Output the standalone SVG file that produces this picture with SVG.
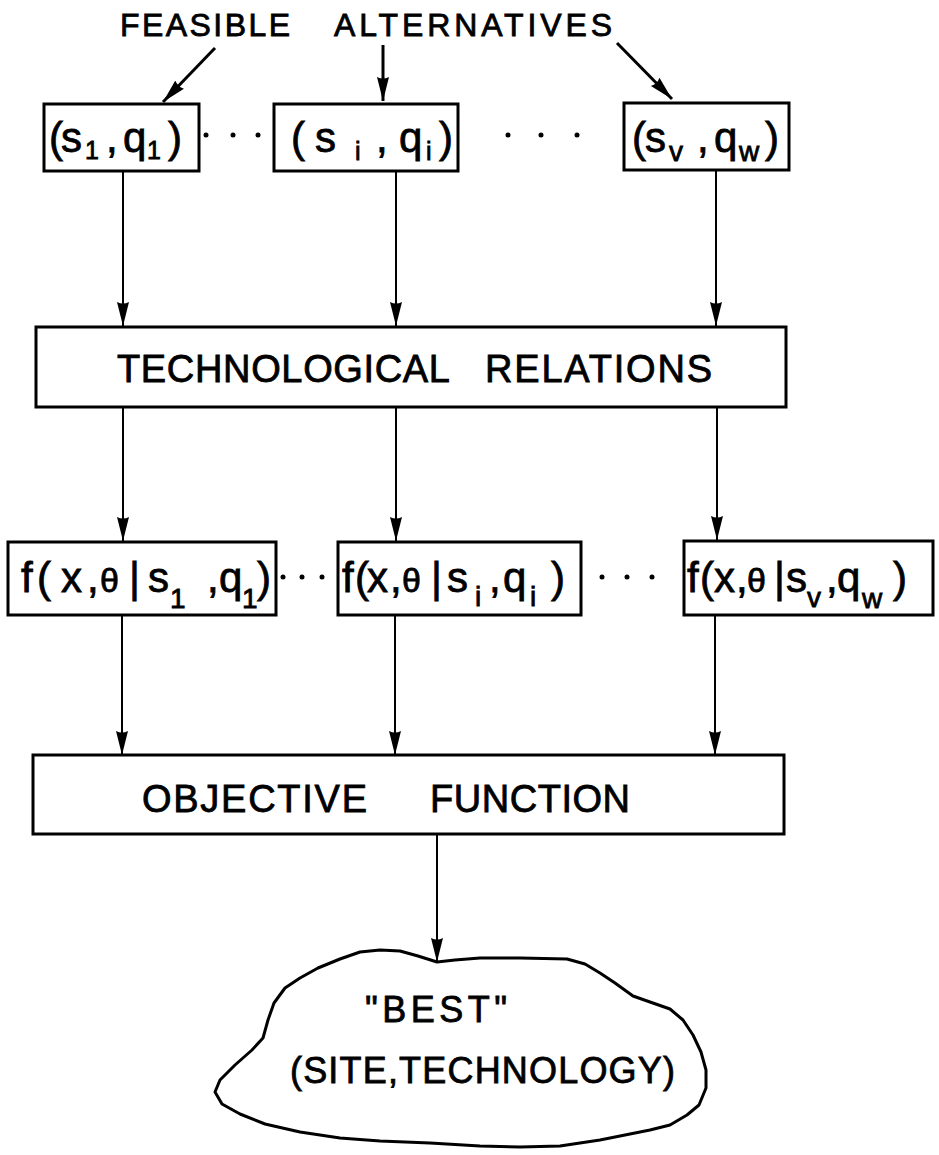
<svg xmlns="http://www.w3.org/2000/svg" width="939" height="1155" viewBox="0 0 939 1155">
  <style>
    .box { fill: #fff; stroke: #000; stroke-width: 3; }
    .lbl { font-family: "Liberation Sans", Arial, sans-serif; fill: #000; stroke: #000; stroke-width: 0.8; }
    .big { font-size: 38px; }
    .mid { font-size: 42px; }
    .sub { font-size: 25px; }
    .sub2 { font-size: 28px; }
    .th { font-size: 34px; }
    .title { font-size: 32px; }
    .cl { font-size: 36px; }
    .wire { stroke: #000; stroke-width: 2; fill: none; marker-end: url(#arr); }
    .slant { stroke: #000; stroke-width: 3; fill: none; marker-end: url(#arr); }
    .dot { fill: #000; }
  </style>
  <defs>
    <!-- long narrow filled arrowhead, tip sits on the line end -->
    <marker id="arr" markerUnits="userSpaceOnUse" markerWidth="26" markerHeight="14" refX="24" refY="7" orient="auto">
      <path d="M0,1 L24,7 L0,13 Q3,7 0,1 z" fill="#000"/>
    </marker>
  </defs>

  <rect width="939" height="1155" fill="#fff"/>

  <g id="heading">
    <text class="lbl title" x="120" y="36" textLength="170" lengthAdjust="spacing">FEASIBLE</text>
    <text class="lbl title" x="334" y="36" textLength="278" lengthAdjust="spacing">ALTERNATIVES</text>
  </g>

  <g id="connectors">
    <line class="slant" x1="215" y1="48" x2="163" y2="102"/>
    <line class="slant" x1="383" y1="45" x2="383" y2="101"/>
    <line class="slant" x1="617" y1="43" x2="672" y2="99"/>

    <line class="wire" x1="123" y1="171" x2="123" y2="326"/>
    <line class="wire" x1="396" y1="171" x2="396" y2="326"/>
    <line class="wire" x1="716" y1="170" x2="716" y2="326"/>

    <line class="wire" x1="123" y1="407" x2="123" y2="541"/>
    <line class="wire" x1="396" y1="407" x2="396" y2="541"/>
    <line class="wire" x1="717" y1="407" x2="717" y2="540"/>

    <line class="wire" x1="122" y1="615" x2="122" y2="755"/>
    <line class="wire" x1="395" y1="615" x2="395" y2="755"/>
    <line class="wire" x1="715" y1="615" x2="715" y2="755"/>

    <line class="wire" x1="437" y1="834" x2="437" y2="962"/>
  </g>

  <g id="pair-1">
    <rect class="box" x="44" y="104" width="155" height="67"/>
    <text class="lbl mid" y="152"><tspan x="49">(</tspan><tspan x="61">s</tspan><tspan class="sub" x="85" y="159">1</tspan><tspan x="106" y="152">,</tspan><tspan x="123">q</tspan><tspan class="sub" x="147" y="159">1</tspan><tspan x="168" y="152">)</tspan></text>
  </g>
  <g id="pair-i">
    <rect class="box" x="274" y="104" width="184" height="67"/>
    <text class="lbl mid" y="152"><tspan x="291">(</tspan><tspan x="315">s</tspan><tspan class="sub" x="355" y="160">i</tspan><tspan x="376" y="152">,</tspan><tspan x="399">q</tspan><tspan class="sub" x="426" y="160">i</tspan><tspan x="439" y="152">)</tspan></text>
  </g>
  <g id="pair-v">
    <rect class="box" x="624" y="103" width="165" height="67"/>
    <text class="lbl mid" y="152"><tspan x="632">(</tspan><tspan x="645">s</tspan><tspan class="sub2" x="669" y="161">v</tspan><tspan x="697" y="152">,</tspan><tspan x="714">q</tspan><tspan class="sub2" x="739" y="161">w</tspan><tspan x="765" y="152">)</tspan></text>
  </g>
  <g id="dots-top">
    <circle class="dot" cx="206" cy="135" r="2.5"/>
    <circle class="dot" cx="233" cy="135" r="2.5"/>
    <circle class="dot" cx="258" cy="135" r="2.5"/>
    <circle class="dot" cx="508" cy="135" r="2.5"/>
    <circle class="dot" cx="541" cy="135" r="2.5"/>
    <circle class="dot" cx="577" cy="135" r="2.5"/>
  </g>

  <g id="tech-relations">
    <rect class="box" x="36" y="327" width="750" height="80"/>
    <text class="lbl big" x="117" y="382" textLength="333" lengthAdjust="spacing">TECHNOLOGICAL</text>
    <text class="lbl big" x="485" y="382" textLength="227" lengthAdjust="spacing">RELATIONS</text>
  </g>

  <g id="density-1">
    <rect class="box" x="8" y="542" width="268" height="73"/>
    <text class="lbl mid" y="592"><tspan x="21">f</tspan><tspan x="37">(</tspan><tspan x="61">x</tspan><tspan x="87">,</tspan><tspan class="th" x="100">θ</tspan><tspan x="129">|</tspan><tspan x="148">s</tspan><tspan class="sub2" x="170" y="608">1</tspan><tspan x="207" y="592">,</tspan><tspan x="219">q</tspan><tspan class="sub2" x="242" y="608">1</tspan><tspan x="257" y="592">)</tspan></text>
  </g>
  <g id="density-i">
    <rect class="box" x="338" y="542" width="243" height="73"/>
    <text class="lbl mid" y="592"><tspan x="342">f</tspan><tspan x="355">(</tspan><tspan x="367">x</tspan><tspan x="390">,</tspan><tspan class="th" x="402">θ</tspan><tspan x="431">|</tspan><tspan x="447">s</tspan><tspan class="sub2" x="475" y="606">i</tspan><tspan x="489" y="592">,</tspan><tspan x="503">q</tspan><tspan class="sub2" x="530" y="606">i</tspan><tspan x="551" y="592">)</tspan></text>
  </g>
  <g id="density-v">
    <rect class="box" x="684" y="541" width="249" height="74"/>
    <text class="lbl mid" y="592"><tspan x="687">f</tspan><tspan x="700">(</tspan><tspan x="714">x</tspan><tspan x="736">,</tspan><tspan class="th" x="747">θ</tspan><tspan x="774">|</tspan><tspan x="786">s</tspan><tspan class="sub2" x="807" y="607">v</tspan><tspan x="826" y="592">,</tspan><tspan x="837">q</tspan><tspan class="sub2" x="862" y="608">w</tspan><tspan x="893" y="592">)</tspan></text>
  </g>
  <g id="dots-mid">
    <circle class="dot" cx="283" cy="577" r="2.5"/>
    <circle class="dot" cx="302" cy="577" r="2.5"/>
    <circle class="dot" cx="322" cy="577" r="2.5"/>
    <circle class="dot" cx="602" cy="577" r="2.5"/>
    <circle class="dot" cx="627" cy="577" r="2.5"/>
    <circle class="dot" cx="652" cy="577" r="2.5"/>
  </g>

  <g id="objective">
    <rect class="box" x="33" y="755" width="751" height="79"/>
    <text class="lbl big" x="142" y="812" textLength="225" lengthAdjust="spacing">OBJECTIVE</text>
    <text class="lbl big" x="430" y="812" textLength="200" lengthAdjust="spacing">FUNCTION</text>
  </g>

  <g id="best">
    <path d="M437,962 L455,960 L480,958 L520,958 L567,959 L585,964 L600,973 L615,983 L633,996 L650,1002 L670,1009 L683,1020 L693,1035 L701,1052 L706,1070 L706,1088 L699,1105 L687,1115 L670,1125 L650,1130 L625,1135 L600,1140 L560,1146 L520,1147 L480,1146 L430,1143 L380,1141 L340,1138 L300,1132 L265,1124 L240,1114 L222,1104 L215,1092 L220,1080 L235,1065 L252,1050 L263,1038 L268,1020 L274,1003 L285,988 L300,978 L318,968 L340,959 L360,952 L380,950 L400,951 L418,956 Z" fill="none" stroke="#000" stroke-width="3" stroke-linejoin="round"/>
    <text class="lbl cl" x="365" y="1022" textLength="142" lengthAdjust="spacing">"BEST"</text>
    <text class="lbl cl" x="290" y="1083" textLength="385" lengthAdjust="spacing">(SITE,TECHNOLOGY)</text>
  </g>
</svg>
